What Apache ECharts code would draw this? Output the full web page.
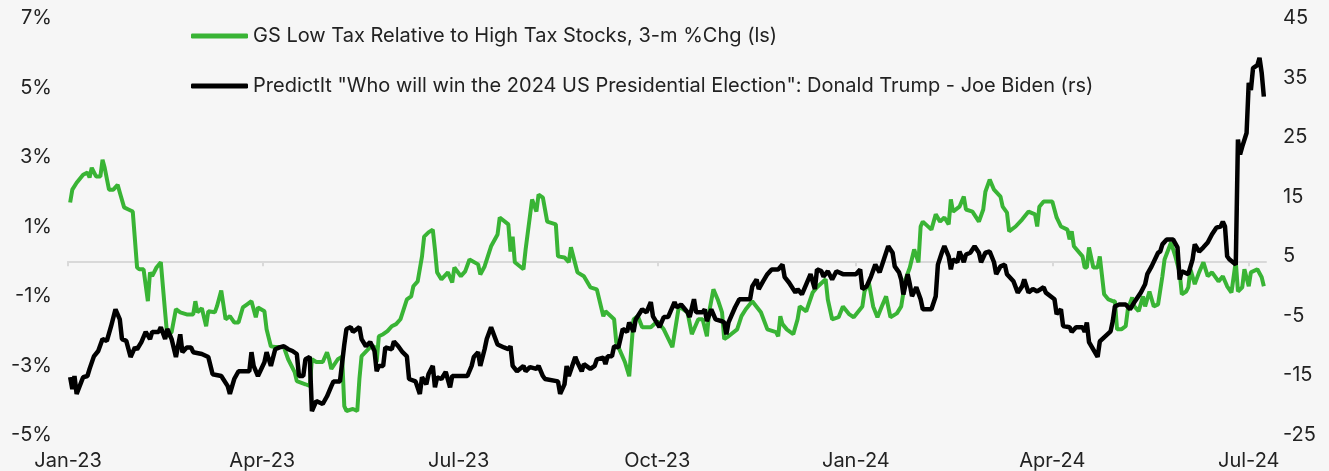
<!DOCTYPE html>
<html>
<head>
<meta charset="utf-8">
<script src="https://cdn.jsdelivr.net/npm/echarts@6/dist/echarts.min.js"></script>
<style>
  html, body { margin: 0; padding: 0; background: #f6f6f6; }
  #chart { width: 1329px; height: 471px; }
</style>
</head>
<body>
<div id="chart"></div>
<script>
// GS low-tax vs high-tax basket, 3-month % change (left axis, %)
const lowTaxRel = [
  ['2023-01-02',1.69],['2023-01-03',2.06],['2023-01-05',2.26],['2023-01-08',2.49],['2023-01-10',2.55],['2023-01-11',2.41],['2023-01-12',2.69],['2023-01-14',2.44],['2023-01-16',2.44],['2023-01-17',2.92],['2023-01-18',2.69],['2023-01-20',2.06],['2023-01-22',2.06],['2023-01-24',2.2],['2023-01-25',1.98],['2023-01-27',1.55],['2023-01-29',1.49],['2023-01-31',1.43],
  ['2023-02-01',0.63],['2023-02-02',-0.18],['2023-02-03',-0.23],['2023-02-05',-0.23],['2023-02-07',-1.15],['2023-02-08',-0.32],['2023-02-09',-0.43],['2023-02-11',-0.18],['2023-02-13',-0.03],['2023-02-15',-1.47],['2023-02-16',-2.16],['2023-02-18',-2.04],['2023-02-20',-1.38],['2023-02-22',-1.47],['2023-02-25',-1.53],['2023-02-28',-1.53],
  ['2023-03-01',-1.15],['2023-03-02',-1.47],['2023-03-04',-1.35],['2023-03-06',-1.87],['2023-03-07',-1.44],['2023-03-10',-1.47],['2023-03-11',-1.3],['2023-03-13',-0.84],['2023-03-15',-1.67],['2023-03-17',-1.58],['2023-03-19',-1.76],['2023-03-21',-1.76],['2023-03-23',-1.33],['2023-03-25',-1.24],['2023-03-27',-1.15],['2023-03-29',-1.61],['2023-03-30',-1.33],
  ['2023-04-02',-1.44],['2023-04-03',-1.96],['2023-04-05',-2.45],['2023-04-07',-2.47],['2023-04-11',-2.47],['2023-04-13',-2.82],['2023-04-16',-3.19],['2023-04-17',-3.45],['2023-04-21',-3.54],['2023-04-23',-3.59],['2023-04-24',-2.82],['2023-04-26',-2.9],['2023-04-29',-2.9],
  ['2023-05-01',-2.62],['2023-05-02',-2.82],['2023-05-03',-3.1],['2023-05-06',-2.82],['2023-05-08',-2.75],['2023-05-09',-4.17],['2023-05-10',-4.31],['2023-05-13',-4.25],['2023-05-15',-4.31],['2023-05-16',-3.39],['2023-05-17',-2.73],['2023-05-21',-2.47],['2023-05-23',-2.45],['2023-05-24',-2.9],['2023-05-25',-2.16],['2023-05-27',-2.1],['2023-05-29',-2.01],['2023-05-31',-1.87],
  ['2023-06-02',-1.81],['2023-06-04',-1.67],['2023-06-07',-1.1],['2023-06-09',-1.01],['2023-06-10',-0.72],['2023-06-12',-0.58],['2023-06-14',0.14],['2023-06-15',0.71],['2023-06-17',0.83],['2023-06-19',0.91],['2023-06-20',0.34],['2023-06-21',-0.32],['2023-06-23',-0.52],['2023-06-26',-0.32],['2023-06-28',-0.61],['2023-06-29',-0.18],
  ['2023-07-02',-0.43],['2023-07-04',-0.29],['2023-07-06',0.05],['2023-07-10',-0.09],['2023-07-11',-0.38],['2023-07-13',-0.15],['2023-07-16',0.43],['2023-07-19',0.77],['2023-07-20',1.26],['2023-07-24',1.06],['2023-07-25',0.28],['2023-07-26',0.71],['2023-07-27',-0.03],['2023-07-31',-0.23],
  ['2023-08-01',0.34],['2023-08-04',1.78],['2023-08-06',1.43],['2023-08-07',1.92],['2023-08-09',1.83],['2023-08-11',1.14],['2023-08-15',1.06],['2023-08-16',0.14],['2023-08-19',0.11],['2023-08-21',-0.03],['2023-08-22',0.4],['2023-08-25',-0.32],['2023-08-28',-0.43],['2023-08-31',-0.75],
  ['2023-09-03',-0.81],['2023-09-06',-1.58],['2023-09-07',-1.44],['2023-09-11',-1.67],['2023-09-12',-2.33],['2023-09-13',-2.47],['2023-09-16',-2.9],['2023-09-18',-3.31],['2023-09-20',-1.67],['2023-09-22',-1.58],['2023-09-24',-1.9],['2023-09-28',-1.9],
  ['2023-10-01',-1.73],['2023-10-04',-1.96],['2023-10-08',-2.47],['2023-10-11',-1.3],['2023-10-15',-1.47],['2023-10-17',-2.1],['2023-10-20',-1.67],['2023-10-22',-1.67],['2023-10-24',-2.16],['2023-10-25',-1.47],['2023-10-27',-0.81],['2023-10-29',-1.1],['2023-10-31',-1.47],
  ['2023-11-01',-2.24],['2023-11-03',-2.16],['2023-11-07',-1.96],['2023-11-09',-1.58],['2023-11-11',-1.38],['2023-11-14',-1.15],['2023-11-18',-1.47],['2023-11-21',-1.96],['2023-11-25',-2.04],['2023-11-26',-2.16],['2023-11-27',-1.58],['2023-11-28',-1.81],['2023-11-30',-1.96],
  ['2023-12-03',-2.1],['2023-12-05',-1.67],['2023-12-06',-1.3],['2023-12-09',-1.44],['2023-12-12',-0.9],['2023-12-14',-0.75],['2023-12-18',-0.52],['2023-12-19',-1.1],['2023-12-21',-1.67],['2023-12-24',-1.61],['2023-12-26',-1.3],['2023-12-29',-1.53],['2023-12-31',-1.61],
  ['2024-01-04',-1.3],['2024-01-05',-0.87],['2024-01-07',-0.61],['2024-01-09',-1.3],['2024-01-11',-1.61],['2024-01-13',-1.3],['2024-01-15',-1.01],['2024-01-17',-1.61],['2024-01-20',-1.5],['2024-01-22',-1.3],['2024-01-24',-0.52],['2024-01-26',-0.18],['2024-01-28',0.34],['2024-01-30',-0.03],['2024-01-31',1.0],
  ['2024-02-01',1.14],['2024-02-05',0.91],['2024-02-07',1.35],['2024-02-09',1.14],['2024-02-11',1.26],['2024-02-13',1.06],['2024-02-14',1.78],['2024-02-15',1.43],['2024-02-18',1.57],['2024-02-20',1.86],['2024-02-21',1.49],['2024-02-24',1.43],['2024-02-27',1.14],['2024-02-29',1.49],
  ['2024-03-01',2.0],['2024-03-03',2.35],['2024-03-05',2.06],['2024-03-08',1.86],['2024-03-09',1.57],['2024-03-11',1.4],['2024-03-12',0.86],['2024-03-15',1.0],['2024-03-18',1.2],['2024-03-21',1.43],['2024-03-24',1.35],['2024-03-25',1.0],['2024-03-26',1.57],['2024-03-28',1.72],
  ['2024-04-01',1.72],['2024-04-03',1.26],['2024-04-05',1.0],['2024-04-08',0.91],['2024-04-09',0.63],['2024-04-10',0.86],['2024-04-11',0.43],['2024-04-15',0.14],['2024-04-16',-0.18],['2024-04-17',-0.18],['2024-04-18',0.4],['2024-04-20',-0.18],['2024-04-22',-0.18],['2024-04-23',0.14],['2024-04-25',-0.95],['2024-04-27',-1.1],['2024-04-29',-1.15],['2024-04-30',-1.15],
  ['2024-05-01',-1.96],['2024-05-03',-1.96],['2024-05-05',-1.87],['2024-05-06',-1.38],['2024-05-08',-1.04],['2024-05-09',-1.3],['2024-05-11',-1.44],['2024-05-13',-1.01],['2024-05-14',-1.3],['2024-05-16',-0.87],['2024-05-18',-1.3],['2024-05-20',-1.24],['2024-05-22',-0.43],['2024-05-23',0.05],['2024-05-26',0.54],['2024-05-28',0.14],['2024-05-30',-0.32],['2024-05-31',-0.95],
  ['2024-06-02',-0.87],['2024-06-03',-0.75],['2024-06-04',-0.23],['2024-06-06',-0.66],['2024-06-08',-0.32],['2024-06-10',-0.03],['2024-06-12',-0.43],['2024-06-14',-0.32],['2024-06-17',-0.58],['2024-06-19',-0.43],['2024-06-21',-0.72],['2024-06-23',-0.9],['2024-06-25',0.0],['2024-06-26',-0.87],['2024-06-28',-0.75],['2024-06-29',-0.23],
  ['2024-07-01',-0.72],['2024-07-02',-0.32],['2024-07-05',-0.23],['2024-07-07',-0.46],['2024-07-08',-0.72]
];

// PredictIt spread, Trump minus Biden (right axis, points)
const trumpMinusBiden = [
  ['2023-01-02',-15.3],['2023-01-03',-17.3],['2023-01-04',-15.1],['2023-01-05',-18.1],['2023-01-08',-15.3],['2023-01-10',-15.1],['2023-01-11',-13.9],['2023-01-13',-11.8],['2023-01-15',-10.9],['2023-01-17',-8.9],['2023-01-19',-9.2],['2023-01-21',-6.7],['2023-01-23',-3.9],['2023-01-25',-5.6],['2023-01-26',-8.9],['2023-01-28',-9.2],['2023-01-30',-11.9],
  ['2023-02-01',-10.3],['2023-02-02',-10.6],['2023-02-04',-9.4],['2023-02-06',-7.7],['2023-02-08',-8.9],['2023-02-09',-7.7],['2023-02-12',-7.7],['2023-02-13',-6.9],['2023-02-15',-8.9],['2023-02-16',-7.2],['2023-02-18',-8.9],['2023-02-20',-11.9],['2023-02-22',-8.1],['2023-02-23',-11.1],['2023-02-25',-10.3],['2023-02-27',-10.3],['2023-02-28',-11.1],
  ['2023-03-04',-11.4],['2023-03-07',-11.9],['2023-03-09',-14.8],['2023-03-13',-15.1],['2023-03-16',-16.8],['2023-03-17',-18.1],['2023-03-19',-15.6],['2023-03-21',-14.3],['2023-03-26',-14.3],['2023-03-27',-11.1],['2023-03-28',-13.4],['2023-03-30',-15.1],
  ['2023-04-02',-12.8],['2023-04-03',-11.1],['2023-04-05',-13.4],['2023-04-07',-10.6],['2023-04-09',-10.3],['2023-04-11',-10.1],['2023-04-13',-10.6],['2023-04-15',-10.9],['2023-04-17',-11.4],['2023-04-18',-15.1],['2023-04-20',-15.1],['2023-04-21',-12.3],['2023-04-23',-11.9],['2023-04-24',-21.0],['2023-04-26',-19.3],['2023-04-29',-19.8],
  ['2023-05-01',-18.5],['2023-05-03',-16.8],['2023-05-04',-16.0],['2023-05-07',-16.0],['2023-05-09',-9.8],['2023-05-10',-7.2],['2023-05-12',-6.9],['2023-05-13',-7.7],['2023-05-16',-6.9],['2023-05-17',-8.9],['2023-05-19',-10.1],['2023-05-21',-9.4],['2023-05-23',-10.9],['2023-05-24',-14.3],['2023-05-25',-13.4],['2023-05-27',-13.4],['2023-05-28',-10.3],['2023-05-31',-10.6],
  ['2023-06-01',-9.3],['2023-06-03',-10.1],['2023-06-05',-11.1],['2023-06-07',-11.8],['2023-06-08',-15.6],['2023-06-11',-16.0],['2023-06-13',-18.1],['2023-06-14',-15.3],['2023-06-16',-16.5],['2023-06-17',-14.8],['2023-06-19',-13.4],['2023-06-20',-17.0],['2023-06-21',-15.3],['2023-06-23',-15.6],['2023-06-25',-14.4],['2023-06-27',-17.0],['2023-06-28',-15.1],
  ['2023-07-05',-15.1],['2023-07-07',-13.4],['2023-07-08',-11.9],['2023-07-10',-11.1],['2023-07-11',-13.4],['2023-07-13',-10.6],['2023-07-14',-8.9],['2023-07-16',-6.9],['2023-07-19',-9.8],['2023-07-22',-10.3],['2023-07-24',-10.6],['2023-07-25',-10.1],['2023-07-26',-13.4],['2023-07-28',-14.3],['2023-07-31',-13.4],
  ['2023-08-01',-14.3],['2023-08-03',-13.6],['2023-08-06',-13.9],['2023-08-07',-13.4],['2023-08-09',-15.1],['2023-08-10',-15.6],['2023-08-16',-16.0],['2023-08-17',-18.1],['2023-08-19',-16.5],['2023-08-20',-13.4],['2023-08-21',-15.1],['2023-08-24',-11.9],['2023-08-25',-12.8],['2023-08-27',-14.3],['2023-08-28',-13.1],['2023-08-31',-13.9],
  ['2023-09-02',-13.4],['2023-09-03',-12.3],['2023-09-06',-12.0],['2023-09-07',-13.1],['2023-09-08',-11.8],['2023-09-10',-11.8],['2023-09-11',-10.1],['2023-09-13',-10.3],['2023-09-15',-7.2],['2023-09-17',-7.7],['2023-09-18',-6.1],['2023-09-20',-7.7],['2023-09-21',-5.6],['2023-09-24',-3.9],['2023-09-26',-4.4],['2023-09-28',-2.7],['2023-09-29',-5.1],
  ['2023-10-02',-6.9],['2023-10-04',-5.2],['2023-10-06',-5.2],['2023-10-09',-2.7],['2023-10-10',-3.6],['2023-10-12',-3.1],['2023-10-15',-4.4],['2023-10-16',-5.2],['2023-10-18',-2.2],['2023-10-19',-4.4],['2023-10-22',-4.4],['2023-10-23',-3.9],['2023-10-24',-5.9],['2023-10-26',-3.9],['2023-10-28',-5.6],['2023-10-31',-5.9],
  ['2023-11-01',-6.1],['2023-11-02',-8.1],['2023-11-03',-6.1],['2023-11-06',-3.6],['2023-11-08',-2.2],['2023-11-13',-2.2],['2023-11-14',-0.05],['2023-11-16',1.1],['2023-11-17',-0.5],['2023-11-19',0.8],['2023-11-21',2.0],['2023-11-23',2.8],['2023-11-26',2.8],['2023-11-28',3.6],['2023-11-29',1.5],
  ['2023-12-01',0.6],['2023-12-04',-1.1],['2023-12-05',-0.5],['2023-12-07',-1.4],['2023-12-09',0.3],['2023-12-11',2.0],['2023-12-13',-0.5],['2023-12-14',2.8],['2023-12-16',2.5],['2023-12-17',1.6],['2023-12-19',2.5],['2023-12-21',1.1],['2023-12-23',2.5],['2023-12-26',2.0],
  ['2024-01-01',2.0],['2024-01-03',2.8],['2024-01-04',-0.5],['2024-01-06',-0.05],['2024-01-08',1.6],['2024-01-10',3.6],['2024-01-12',2.3],['2024-01-14',4.5],['2024-01-16',6.7],['2024-01-18',5.6],['2024-01-19',3.3],['2024-01-21',2.3],['2024-01-22',1.1],['2024-01-23',-1.4],['2024-01-25',2.0],['2024-01-26',0.3],['2024-01-27',-1.7],['2024-01-29',-0.2],['2024-01-31',-2.2],
  ['2024-02-01',-3.9],['2024-02-05',-3.9],['2024-02-07',-1.7],['2024-02-08',3.6],['2024-02-10',5.8],['2024-02-11',6.7],['2024-02-13',5.0],['2024-02-14',2.8],['2024-02-15',4.5],['2024-02-17',4.0],['2024-02-18',5.8],['2024-02-20',4.0],['2024-02-21',5.3],['2024-02-23',5.6],['2024-02-25',6.7],['2024-02-27',5.6],['2024-02-28',4.0],
  ['2024-03-01',5.6],['2024-03-03',5.8],['2024-03-05',4.0],['2024-03-06',2.0],['2024-03-08',3.3],['2024-03-10',3.6],['2024-03-11',2.0],['2024-03-14',0.8],['2024-03-16',-1.1],['2024-03-18',-0.05],['2024-03-19',1.1],['2024-03-21',-1.1],['2024-03-23',-0.5],['2024-03-25',-0.9],['2024-03-28',-0.2],['2024-03-29',-1.1],
  ['2024-04-02',-2.2],['2024-04-03',-4.7],['2024-04-05',-3.9],['2024-04-06',-6.7],['2024-04-09',-6.9],['2024-04-10',-7.7],['2024-04-12',-6.9],['2024-04-15',-6.9],['2024-04-16',-7.7],['2024-04-17',-6.1],['2024-04-18',-9.4],['2024-04-22',-11.9],['2024-04-23',-9.3],['2024-04-25',-8.6],['2024-04-28',-7.6],['2024-04-29',-5.9],['2024-04-30',-3.4],
  ['2024-05-02',-3.1],['2024-05-05',-3.1],['2024-05-07',-3.9],['2024-05-09',-2.7],['2024-05-12',-1.1],['2024-05-14',0.3],['2024-05-15',2.0],['2024-05-17',3.3],['2024-05-20',5.6],['2024-05-21',5.8],['2024-05-22',7.0],['2024-05-24',7.8],['2024-05-27',7.8],['2024-05-29',6.5],['2024-05-30',1.1],['2024-05-31',2.5],
  ['2024-06-03',2.0],['2024-06-05',4.5],['2024-06-06',7.0],['2024-06-08',5.8],['2024-06-10',6.5],['2024-06-12',7.3],['2024-06-14',8.7],['2024-06-16',9.8],['2024-06-18',10.0],['2024-06-19',10.8],['2024-06-20',10.0],['2024-06-21',5.0],['2024-06-22',4.5],['2024-06-25',3.6],['2024-06-26',24.6],['2024-06-27',22.1],['2024-06-28',23.4],['2024-06-30',25.7],
  ['2024-07-01',34.1],['2024-07-02',32.9],['2024-07-03',36.6],['2024-07-05',37.1],['2024-07-06',38.3],['2024-07-07',35.8],['2024-07-08',31.8]
];

// Axis ticks: quarter starts on the date axis, fixed scales on both value axes
const quarterTicks = ['2023-01-01','2023-04-01','2023-07-01','2023-10-01','2024-01-01','2024-04-01','2024-07-01'];
const monthNames = ['Jan','Feb','Mar','Apr','May','Jun','Jul','Aug','Sep','Oct','Nov','Dec'];
const leftAxis = { min: -5, max: 7, step: 2 };
const rightAxis = { min: -25, max: 45, step: 10 };
const dateRange = ['2023-01-01', '2024-07-09'];

const seriesNames = [
  'GS Low Tax Relative to High Tax Stocks, 3-m %Chg (ls)',
  'PredictIt "Who will win the 2024 US Presidential Election": Donald Trump - Joe Biden (rs)'
];

const toTime = s => new Date(s + 'T00:00:00').getTime();
const quarterTimes = quarterTicks.map(toTime);
const FONT = 'Inter';
const FONT_SIZE = 20;
const TEXT = '#222222';

const chart = echarts.init(document.getElementById('chart'), null, { renderer: 'canvas' });

// Dates are plotted as millisecond timestamps on a linear axis so ticks can sit on quarter starts
const dateAxisBase = {
  type: 'value',
  min: toTime(dateRange[0]),
  max: toTime(dateRange[1]),
  position: 'bottom',
  splitLine: { show: false }
};

chart.setOption({
  backgroundColor: '#f6f6f6',
  animation: false,
  textStyle: { fontFamily: FONT },
  grid: { left: 68, right: 63, top: 18, bottom: 35, containLabel: false },
  legend: {
    orient: 'vertical',
    left: 186,
    top: 21,
    itemWidth: 57,
    itemHeight: 5,
    itemGap: 30,
    icon: 'roundRect',
    textStyle: { fontFamily: FONT, fontSize: FONT_SIZE, color: TEXT },
    data: seriesNames
  },
  xAxis: [
    Object.assign({}, dateAxisBase, {
      axisLine: { show: false, onZero: false },
      axisTick: { show: false },
      axisLabel: {
        customValues: quarterTimes,
        margin: 16,
        fontFamily: FONT,
        fontSize: FONT_SIZE,
        color: TEXT,
        formatter: v => {
          const d = new Date(v);
          return monthNames[d.getMonth()] + '-' + String(d.getFullYear()).slice(2);
        }
      }
    }),
    Object.assign({}, dateAxisBase, {
      axisLine: { show: true, onZero: true, onZeroAxisIndex: 0, lineStyle: { color: '#d9d9d9', width: 2 } },
      axisTick: { show: true, customValues: quarterTimes, length: 5, lineStyle: { color: '#d9d9d9', width: 2 } },
      axisLabel: { show: false }
    })
  ],
  yAxis: [
    {
      type: 'value',
      position: 'left',
      min: leftAxis.min, max: leftAxis.max, interval: leftAxis.step,
      axisLine: { show: false },
      axisTick: { show: false },
      splitLine: { show: false },
      axisLabel: { formatter: '{value}%', margin: 16, fontFamily: FONT, fontSize: FONT_SIZE, color: TEXT }
    },
    {
      type: 'value',
      position: 'right',
      min: rightAxis.min, max: rightAxis.max, interval: rightAxis.step,
      axisLine: { show: false },
      axisTick: { show: false },
      splitLine: { show: false },
      axisLabel: { margin: 17, fontFamily: FONT, fontSize: FONT_SIZE, color: TEXT }
    }
  ],
  series: [
    {
      name: seriesNames[0],
      type: 'line',
      xAxisIndex: 0,
      yAxisIndex: 0,
      data: lowTaxRel.map(([d, v]) => [toTime(d), v]),
      showSymbol: false,
      color: '#39b435',
      lineStyle: { width: 4, color: '#39b435' }
    },
    {
      name: seriesNames[1],
      type: 'line',
      xAxisIndex: 0,
      yAxisIndex: 1,
      data: trumpMinusBiden.map(([d, v]) => [toTime(d), v]),
      showSymbol: false,
      color: '#000000',
      lineStyle: { width: 4.5, color: '#000000' }
    }
  ]
});
</script>
</body>
</html>
